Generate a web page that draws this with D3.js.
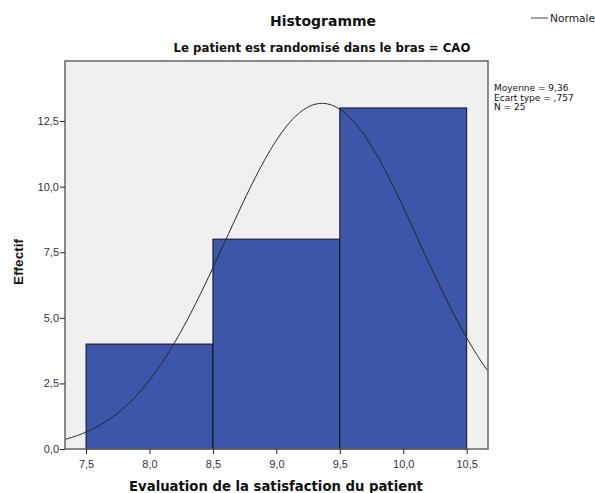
<!DOCTYPE html>
<html><head><meta charset="utf-8">
<script src="https://cdn.jsdelivr.net/npm/d3@7"></script>
<style>body{margin:0;background:#fff;}svg{display:block;font-family:"Liberation Sans",Arial,sans-serif;}</style>
</head><body>
<svg id="c" width="595" height="493"></svg>
<script>
const binStarts = [7.5, 8.5, 9.5];
const binEnds = [8.5, 9.5, 10.5];
const counts = [4, 8, 13];
const xTicks = [7.5, 8.0, 8.5, 9.0, 9.5, 10.0, 10.5];
const yTicks = [0, 2.5, 5, 7.5, 10, 12.5];
const meanVal = 9.36, sdVal = 0.757, nVal = 25;
const statLines = ["Moyenne = 9,36", "Ecart type = ,757", "N = 25"];

const svg = d3.select("#c");
const L = 65, R = 488, T = 61, B = 449;
const x = d3.scaleLinear().domain([7.334, 10.668]).range([L, R]);
const y = d3.scaleLinear().domain([0, 14.79]).range([B, T]);
const fmt = d => d.toFixed(1).replace(".", ",");
const WIDE = "DejaVu Sans, Verdana, sans-serif";

function fit(sel, target) {
  const fs = +sel.attr("font-size");
  const w = sel.node().getComputedTextLength();
  if (w > 0) sel.attr("font-size", (fs * target / w).toFixed(2));
  return sel;
}

svg.append("rect").attr("x", L).attr("y", T).attr("width", R - L).attr("height", B - T)
  .attr("fill", "#f0f0f0");

svg.selectAll("rect.bar").data(counts).enter().append("rect").attr("class", "bar")
  .attr("x", (d, i) => x(binStarts[i])).attr("width", (d, i) => x(binEnds[i]) - x(binStarts[i]))
  .attr("y", d => y(d)).attr("height", d => y(0) - y(d))
  .attr("fill", "#3d56aa").attr("stroke", "#111").attr("stroke-width", 1);

const pts = d3.range(7.334, 10.669, 0.01).map(v => [v, nVal * 1 * Math.exp(-0.5 * ((v - meanVal) / sdVal) ** 2) / (sdVal * Math.sqrt(2 * Math.PI))]);
svg.append("path").datum(pts).attr("fill", "none").attr("stroke", "#222").attr("stroke-width", 1)
  .attr("d", d3.line().x(d => x(d[0])).y(d => y(d[1])).curve(d3.curveBasis));

svg.append("rect").attr("x", L).attr("y", T).attr("width", R - L).attr("height", B - T)
  .attr("fill", "none").attr("stroke", "#666").attr("stroke-width", 1.5);

const xa = svg.append("g").attr("transform", `translate(0,${B})`)
  .call(d3.axisBottom(x).tickValues(xTicks).tickFormat(fmt).tickSize(5).tickSizeOuter(0));
xa.select(".domain").remove();
xa.selectAll("line").attr("stroke", "#222");
xa.selectAll("text").attr("font-size", 11).attr("fill", "#333").attr("dy", "1.0em").attr("font-family", "Liberation Sans, Arial, sans-serif");

const ya = svg.append("g").attr("transform", `translate(${L},0)`)
  .call(d3.axisLeft(y).tickValues(yTicks).tickFormat(fmt).tickSize(5).tickSizeOuter(0));
ya.select(".domain").remove();
ya.selectAll("line").attr("stroke", "#222");
ya.selectAll("text").attr("font-size", 11).attr("fill", "#333").attr("x", -6).attr("font-family", "Liberation Sans, Arial, sans-serif");

fit(svg.append("text").attr("x", 323).attr("y", 26).attr("text-anchor", "middle").attr("font-family", WIDE)
  .attr("font-size", 14).attr("font-weight", "bold").attr("fill", "#111").text("Histogramme"), 106);
fit(svg.append("text").attr("x", 322).attr("y", 52).attr("text-anchor", "middle").attr("font-family", WIDE)
  .attr("font-size", 12).attr("font-weight", "bold").attr("fill", "#111").text("Le patient est randomisé dans le bras = CAO"), 297);
fit(svg.append("text").attr("x", 276).attr("y", 491).attr("text-anchor", "middle").attr("font-family", WIDE)
  .attr("font-size", 13).attr("font-weight", "bold").attr("fill", "#111").text("Evaluation de la satisfaction du patient"), 294);
svg.append("text").attr("transform", "translate(23,262) rotate(-90)").attr("text-anchor", "middle")
  .attr("font-size", 13.5).attr("font-weight", "bold").attr("fill", "#111").text("Effectif");

svg.append("line").attr("x1", 531).attr("x2", 548).attr("y1", 18).attr("y2", 18).attr("stroke", "#444");
fit(svg.append("text").attr("x", 550).attr("y", 21.5).attr("font-size", 10).attr("font-family", WIDE).attr("fill", "#222").text("Normale"), 45);

svg.selectAll("text.stat").data(statLines).enter().append("text").attr("class", "stat")
  .attr("x", 494).attr("y", (d, i) => 91 + i * 9.6).attr("font-size", 9).attr("font-family", WIDE).attr("fill", "#111").text(d => d);
</script>
</body></html>
